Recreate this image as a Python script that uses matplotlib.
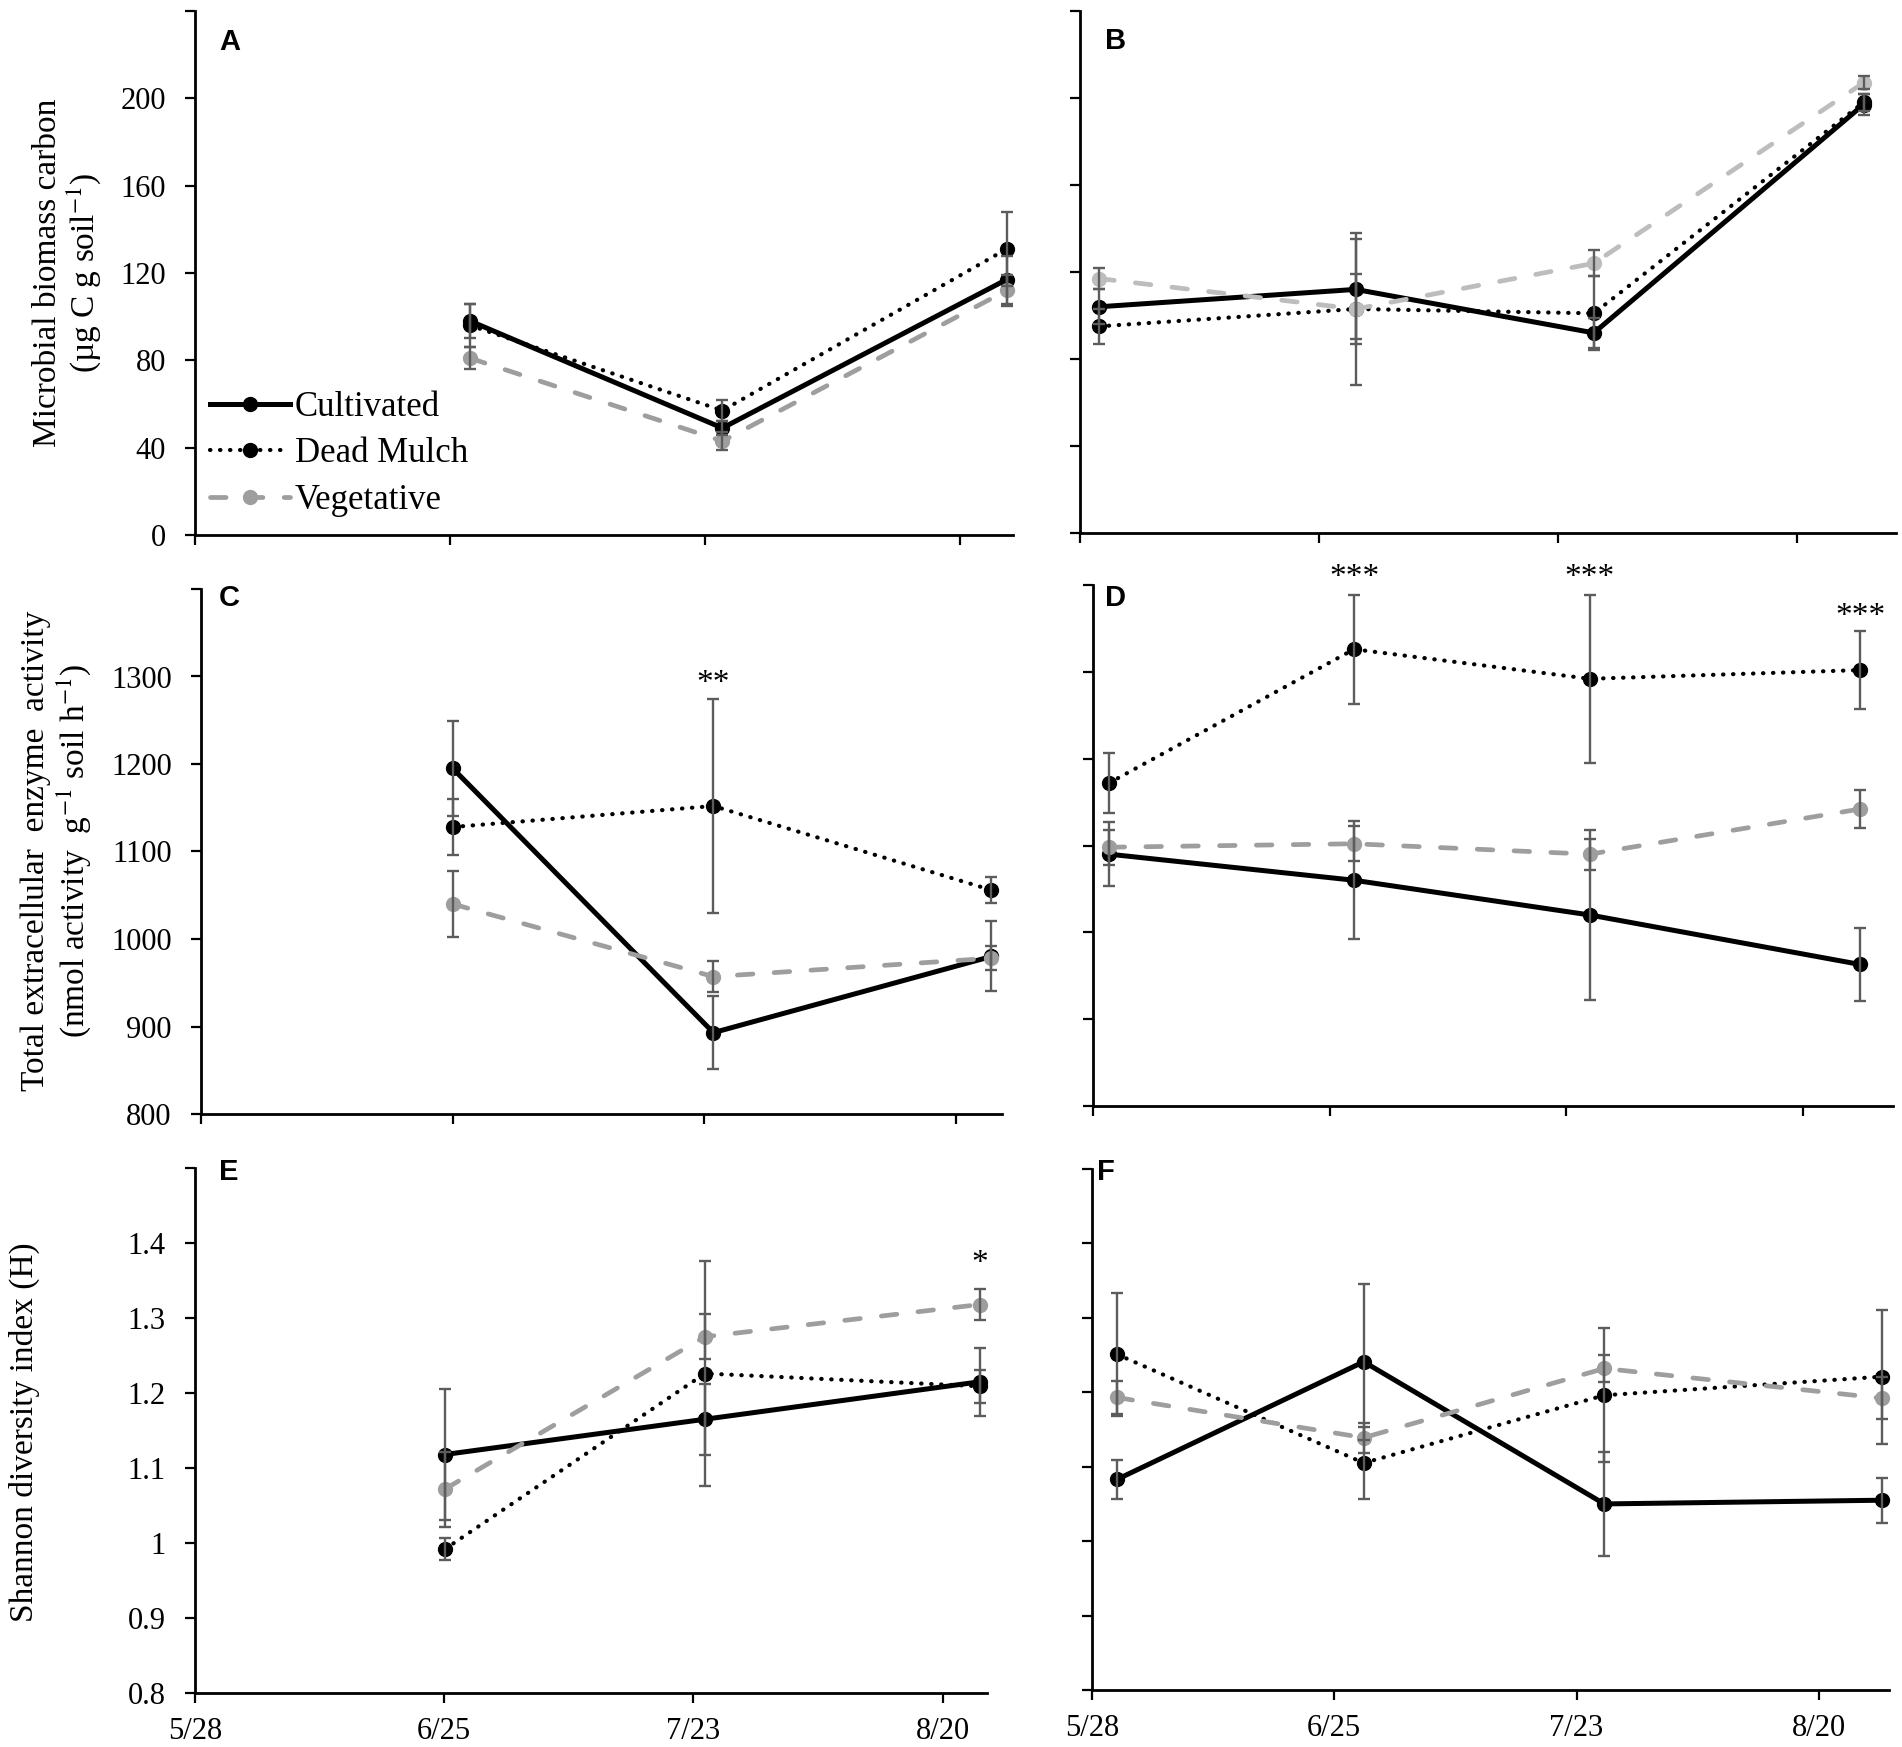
import matplotlib
matplotlib.use("Agg")
import matplotlib.pyplot as plt
from matplotlib.lines import Line2D

W, H = 1902, 1747
plt.rcParams["font.family"] = ["Liberation Serif", "DejaVu Serif"]
plt.rcParams["mathtext.fontset"] = "stix"

date_ticks = [0, 28, 56, 84]
date_labels = ["5/28", "6/25", "7/23", "8/20"]
treatments = ["Cultivated", "Dead Mulch", "Vegetative"]

# sampling days (days after 5/28) as placed in each panel
days_a = [30.2, 57.9, 89.1]
days_b = [2.2, 32.3, 60.2, 91.8]
days_c = [28.0, 57.0, 87.9]
days_d = [1.9, 30.9, 58.8, 90.8]
days_e = [28.1, 57.3, 88.2]
days_f = [2.9, 31.4, 59.2, 91.3]

# A / B : microbial biomass carbon
cult_a = [98, 49, 117];   cult_a_err = [8, 3, 11]
mulch_a = [96, 57, 131];  mulch_a_err = [10, 5, 17]
veg_a = [81, 43, 112];    veg_a_err = [5, 4, 7]

cult_b = [104, 112, 92, 197];   cult_b_err = [8, 23, 7, 5]
mulch_b = [95, 103, 101, 198];  mulch_b_err = [8, 35, 17, 4]
veg_b = [117, 103, 124, 207];   veg_b_err = [5, 16, 6, 3]

# C / D : total extracellular enzyme activity
cult_c = [1195, 893, 980];   cult_c_err = [54, 42, 40]
mulch_c = [1128, 1152, 1056]; mulch_c_err = [32, 122, 15]
veg_c = [1040, 957, 978];    veg_c_err = [38, 18, 14]

cult_d = [1090, 1060, 1020, 963];   cult_d_err = [37, 68, 98, 42]
mulch_d = [1172, 1326, 1292, 1302]; mulch_d_err = [35, 63, 97, 45]
veg_d = [1098, 1102, 1090, 1142];   veg_d_err = [20, 20, 18, 22]

# E / F : Shannon diversity
cult_e = [1.118, 1.165, 1.215];  cult_e_err = [0.087, 0.047, 0.045]
mulch_e = [0.992, 1.226, 1.209]; mulch_e_err = [0.015, 0.15, 0.022]
veg_e = [1.072, 1.275, 1.318];   veg_e_err = [0.05, 0.03, 0.021]

cult_f = [1.083, 1.241, 1.05, 1.055];  cult_f_err = [0.026, 0.105, 0.07, 0.03]
mulch_f = [1.251, 1.105, 1.196, 1.221]; mulch_f_err = [0.083, 0.048, 0.09, 0.09]
veg_f = [1.193, 1.139, 1.232, 1.192];   veg_f_err = [0.022, 0.02, 0.018, 0.028]

# significance marks: (panel, day, y)
stars = [("C", 57.0, 1292, "**"), ("D", 30.9, 1408, "***"), ("D", 58.8, 1408, "***"),
         ("D", 90.8, 1364, "***"), ("E", 88.2, 1.372, "*")]

GRAY = "#9e9e9e"
ERR = "#5c5c5c"
styles = {
    "Cultivated": dict(color="black", ls="-", lw=3.6),
    "Dead Mulch": dict(color="black", ls=(0, (0.1, 2.3)), lw=3.0, dash_capstyle="round"),
    "Vegetative": dict(color=GRAY, ls=(0, (3.3, 4.5)), lw=3.4, dash_capstyle="round"),
}

# pixel boxes: left, right, top, bottom
boxes = {
    "A": (195, 1013, 11, 535), "B": (1080, 1896, 11, 533),
    "C": (201, 1002, 589, 1114), "D": (1093, 1893, 585, 1106),
    "E": (195, 987, 1168, 1693), "F": (1092, 1889, 1169, 1690),
}
xmax = {"A": 89.8, "B": 95.6, "C": 89.1, "D": 94.7, "E": 89.0, "F": 92.1}
letter_pos = {"A": (219, 42), "B": (1105, 41), "C": (219, 598),
              "D": (1105, 598), "E": (219, 1172), "F": (1097, 1172)}

panels = {
    "A": (days_a, [(cult_a, cult_a_err), (mulch_a, mulch_a_err), (veg_a, veg_a_err)]),
    "B": (days_b, [(cult_b, cult_b_err), (mulch_b, mulch_b_err), (veg_b, veg_b_err)]),
    "C": (days_c, [(cult_c, cult_c_err), (mulch_c, mulch_c_err), (veg_c, veg_c_err)]),
    "D": (days_d, [(cult_d, cult_d_err), (mulch_d, mulch_d_err), (veg_d, veg_d_err)]),
    "E": (days_e, [(cult_e, cult_e_err), (mulch_e, mulch_e_err), (veg_e, veg_e_err)]),
    "F": (days_f, [(cult_f, cult_f_err), (mulch_f, mulch_f_err), (veg_f, veg_f_err)]),
}

yticks_top = [0, 40, 80, 120, 160, 200, 240]
yticks_mid = [800, 900, 1000, 1100, 1200, 1300, 1400]
yticks_bot = [0.8, 0.9, 1.0, 1.1, 1.2, 1.3, 1.4, 1.5]
ylabels_bot = ["0.8", "0.9", "1", "1.1", "1.2", "1.3", "1.4", ""]

fig = plt.figure(figsize=(W / 100, H / 100), dpi=100)
axes = {}
for key, (l, r, t, b) in boxes.items():
    ax = fig.add_axes([l / W, 1 - b / H, (r - l) / W, (b - t) / H])
    axes[key] = ax
    days, series = panels[key]
    for name, (vals, err) in zip(treatments, series):
        st = dict(styles[name])
        if key == "B" and name == "Vegetative":
            st["color"] = "#bdbdbd"
        ax.errorbar(days, vals, yerr=err, fmt="none", ecolor=ERR, elinewidth=1.7,
                    capsize=4.5, capthick=1.7, zorder=4, clip_on=False)
        ax.plot(days, vals, marker="o", ms=10, mfc=st["color"], mec=st["color"],
                zorder=3, clip_on=False, **st)

    ax.set_xlim(0, xmax[key])
    ax.set_xticks(date_ticks)
    if key in ("E", "F"):
        ax.set_xticklabels(date_labels)
    else:
        ax.set_xticklabels([])
    if key in ("A", "B"):
        ax.set_ylim(0, 240)
        ax.set_yticks(yticks_top)
        ax.set_yticklabels([str(v) for v in yticks_top[:-1]] + [""])
    elif key in ("C", "D"):
        ax.set_ylim(800, 1400)
        ax.set_yticks(yticks_mid)
        ax.set_yticklabels([str(v) for v in yticks_mid[:-1]] + [""])
    else:
        ax.set_ylim(0.8, 1.5)
        ax.set_yticks(yticks_bot)
        ax.set_yticklabels(ylabels_bot)
    if key in ("B", "D", "F"):
        ax.set_yticklabels([])

    for side in ("top", "right"):
        ax.spines[side].set_visible(False)
    for side in ("left", "bottom"):
        ax.spines[side].set_linewidth(2.0)
    ax.tick_params(axis="both", direction="out", length=7, width=1.6, labelsize=22)
    ax.tick_params(axis="y", pad=14)
    ax.tick_params(axis="x", pad=10)
    ax.patch.set_alpha(0)

    lx, ly = letter_pos[key]
    fig.text(lx / W, 1 - ly / H, key, family="Liberation Sans", fontweight="bold",
             fontsize=21, ha="left", va="center")

for key, d, y, s in stars:
    axes[key].text(d, y, s, fontsize=24, ha="center", va="center", clip_on=False)

# y labels
fig.text(68 / W, 1 - 273 / H, "Microbial biomass carbon\n(µg C g soil$^{-1}$)",
         rotation=90, ha="center", va="center", fontsize=24, linespacing=1.05,
         multialignment="center")
fig.text(57 / W, 1 - 851 / H,
         "Total extracellular  enzyme  activity\n(nmol activity  g$^{-1}$ soil h$^{-1}$)",
         rotation=90, ha="center", va="center", fontsize=24, linespacing=1.1,
         multialignment="center")
fig.text(24 / W, 1 - 1432 / H, "Shannon diversity index (H)", rotation=90,
         ha="center", va="center", fontsize=24)

# legend inside panel A
handles = []
for name in treatments:
    st = styles[name]
    handles.append(Line2D([], [], marker="o", ms=10, mfc=st["color"], mec=st["color"], **st))
axes["A"].legend(handles, treatments, loc="center left", bbox_to_anchor=(0.018, 0.155),
                 frameon=False, fontsize=25, handlelength=2.3, handletextpad=0.15,
                 labelspacing=0.39, borderpad=0, borderaxespad=0)

fig.savefig("out.png", dpi=100)
